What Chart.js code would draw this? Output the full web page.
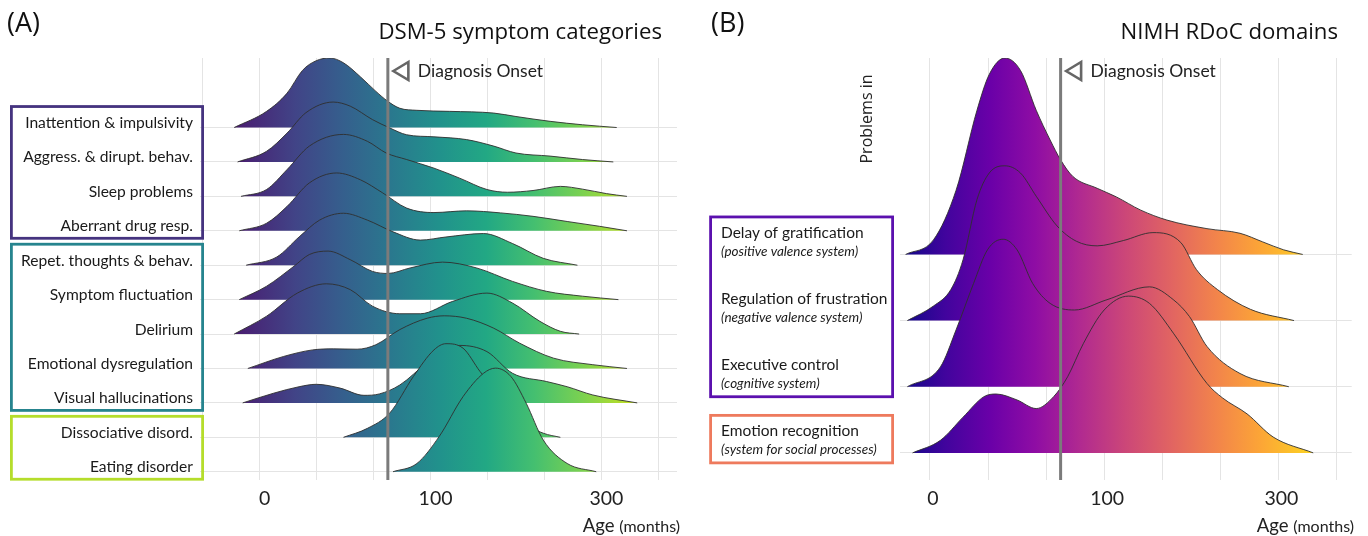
<!DOCTYPE html>
<html>
<head>
<meta charset="utf-8">
<script src="https://cdn.jsdelivr.net/npm/chart.js@4.4.1/dist/chart.umd.min.js"></script>
<style>
	html, body { margin: 0; padding: 0; background: #fff; }
	body { width: 1368px; height: 536px; position: relative; overflow: hidden; font-family: "Open Sans", sans-serif; color: #111; }
	.panel { position: absolute; top: 0; width: 684px; height: 536px; }
	.txt { position: absolute; white-space: nowrap; line-height: 1; }
	.axt { font-family: Lato, sans-serif; font-size: 18.5px; color: #222; }
	.axt span { font-size: 16px; }
</style>
</head>
<body>
<div class="panel" style="left:0"><canvas id="chartA"></canvas></div>
<div class="panel" style="left:684px"><canvas id="chartB"></canvas></div>

<div class="txt" style="left:7px; top:8px; font-size:27px;">(A)</div>
<div class="txt" style="right:706px; top:20px; font-size:22.2px;">DSM-5 symptom categories</div>
<div class="txt" style="left:711px; top:8px; font-size:27px;">(B)</div>
<div class="txt" style="right:30px; top:20px; font-size:22.2px;">NIMH RDoC domains</div>
<div class="txt axt" style="right:688px; top:516px;">Age <span>(months)</span></div>
<div class="txt axt" style="right:14px; top:516px;">Age <span>(months)</span></div>

<script>
// age axis: positions 0, 1, 2 carry the labels 0, 100, 300 months
const tickPositions = [0, 1, 2];
const tickLabels = ["0", "100", "300"];
const gridStepsA = [-1/3, 0, 1/3, 2/3, 1, 4/3, 5/3, 2, 7/3];
const gridStepsB = [0, 1/3, 2/3, 1, 4/3, 5/3, 2, 7/3];
const onsetPos = 0.75;

// (A) DSM-5 symptom categories, top to bottom; each point is [age position, density]
const categoriesA = [
	"Inattention & impulsivity", "Aggress. & dirupt. behav.", "Sleep problems",
	"Aberrant drug resp.", "Repet. thoughts & behav.", "Symptom fluctuation",
	"Delirium", "Emotional dysregulation", "Visual hallucinations",
	"Dissociative disord.", "Eating disorder"
];
const inattention = [[-0.15,0],[0.04,0.47],[0.16,1.0],[0.25,1.66],[0.33,1.94],[0.41,2.02],[0.49,1.88],[0.59,1.47],[0.68,1.05],[0.75,0.76],[0.82,0.56],[0.92,0.5],[1.11,0.47],[1.37,0.42],[1.5,0.32],[1.7,0.18],[1.89,0.08],[2.09,0]];
const aggression = [[-0.13,0],[0.04,0.31],[0.16,0.84],[0.27,1.43],[0.43,1.74],[0.53,1.62],[0.66,1.23],[0.76,0.99],[0.86,0.79],[1.02,0.73],[1.21,0.65],[1.37,0.46],[1.5,0.26],[1.7,0.17],[1.89,0.07],[2.07,0]];
const sleep = [[-0.11,0],[0.04,0.2],[0.16,0.78],[0.29,1.46],[0.49,1.8],[0.63,1.6],[0.74,1.26],[0.86,1.07],[1.02,0.82],[1.17,0.53],[1.33,0.2],[1.45,0.12],[1.6,0.17],[1.76,0.29],[1.89,0.21],[2.03,0.08],[2.15,0]];
const aberrantDrug = [[-0.12,0],[0.04,0.22],[0.16,0.71],[0.29,1.39],[0.45,1.68],[0.59,1.48],[0.72,1.1],[0.86,0.66],[1.02,0.53],[1.21,0.58],[1.41,0.52],[1.6,0.42],[1.8,0.27],[1.99,0.13],[2.15,0]];
const repetitive = [[-0.08,0],[0.1,0.24],[0.23,0.82],[0.35,1.31],[0.49,1.51],[0.63,1.31],[0.78,0.97],[0.94,0.73],[1.09,0.82],[1.31,0.92],[1.48,0.63],[1.66,0.2],[1.86,0]];
const fluctuation = [[-0.12,0],[0.04,0.39],[0.2,0.97],[0.29,1.31],[0.4,1.41],[0.53,1.16],[0.66,0.82],[0.75,0.76],[0.88,0.92],[1.07,1.09],[1.27,0.92],[1.48,0.53],[1.68,0.24],[1.89,0.1],[2.1,0]];
const delirium = [[-0.15,0],[0.04,0.52],[0.22,1.19],[0.39,1.46],[0.53,1.29],[0.66,0.81],[0.82,0.59],[0.94,0.59],[1.13,0.95],[1.33,1.19],[1.48,0.9],[1.64,0.37],[1.76,0.08],[1.87,0]];
const emotionalDysreg = [[-0.07,0],[0.14,0.35],[0.31,0.54],[0.43,0.57],[0.57,0.56],[0.68,0.69],[0.82,1.13],[0.98,1.46],[1.08,1.53],[1.21,1.46],[1.37,1.17],[1.52,0.74],[1.72,0.3],[1.95,0.11],[2.15,0]];
const visualHalluc = [[-0.1,0],[0.08,0.28],[0.23,0.47],[0.33,0.54],[0.47,0.43],[0.61,0.22],[0.7,0.26],[0.82,0.52],[0.98,1.16],[1.17,1.67],[1.33,1.49],[1.48,0.86],[1.68,0.62],[1.8,0.47],[1.95,0.23],[2.21,0]];
const dissociative = [[0.49,0],[0.63,0.26],[0.76,0.7],[0.9,1.77],[1.02,2.54],[1.09,2.72],[1.19,2.59],[1.29,1.91],[1.41,1.18],[1.52,0.5],[1.66,0.12],[1.76,0]];
const eating = [[0.78,0],[0.92,0.24],[1.05,1.02],[1.19,2.18],[1.31,2.86],[1.38,3.01],[1.47,2.77],[1.56,1.99],[1.66,0.92],[1.8,0.24],[1.97,0]];
// which rows each framed group holds
const groupFirstA = [0, 4, 9];
const groupLastA = [3, 8, 10];

// (B) NIMH RDoC domains
const categoriesB = ["Delay of gratification", "Regulation of frustration", "Executive control", "Emotion recognition"];
const domainsB = ["(positive valence system)", "(negative valence system)", "(cognitive system)", "(system for social processes)"];
const delayGrat = [[-0.14,0],[0.02,0.22],[0.15,0.97],[0.27,2.18],[0.34,2.72],[0.43,2.97],[0.52,2.78],[0.61,2.18],[0.69,1.73],[0.75,1.43],[0.82,1.18],[0.96,1.0],[1.07,0.87],[1.21,0.67],[1.36,0.52],[1.59,0.39],[1.78,0.32],[1.91,0.19],[2.03,0.07],[2.14,0]];
const frustration = [[-0.13,0],[0.02,0.22],[0.12,0.47],[0.19,0.92],[0.27,1.83],[0.34,2.23],[0.43,2.34],[0.52,2.23],[0.61,1.88],[0.73,1.43],[0.84,1.2],[0.96,1.13],[1.11,1.21],[1.28,1.33],[1.44,1.18],[1.53,0.77],[1.65,0.47],[1.84,0.17],[2.09,0]];
const execControl = [[-0.13,0],[0.06,0.3],[0.15,0.86],[0.25,1.56],[0.33,2.07],[0.42,2.23],[0.5,2.07],[0.59,1.56],[0.69,1.26],[0.83,1.16],[1.01,1.31],[1.26,1.51],[1.4,1.31],[1.49,1.06],[1.59,0.61],[1.78,0.2],[2.06,0]];
const emotionRecog = [[-0.1,0],[0.06,0.19],[0.19,0.54],[0.31,0.85],[0.38,0.89],[0.5,0.8],[0.61,0.67],[0.71,0.85],[0.79,1.15],[0.88,1.65],[1.0,2.16],[1.14,2.37],[1.26,2.26],[1.4,1.8],[1.59,1.05],[1.68,0.83],[1.82,0.59],[1.97,0.24],[2.2,0]];
const groupFirstB = [0, 3];
const groupLastB = [2, 3];

const seriesA = [inattention, aggression, sleep, aberrantDrug, repetitive, fluctuation, delirium, emotionalDysreg, visualHalluc, dissociative, eating];
const seriesB = [delayGrat, frustration, execControl, emotionRecog];

const viridis = ["#440154","#482475","#414487","#355f8d","#2a788e","#21918c","#22a884","#44bf70","#7ad151","#bddf26","#fde725"];
const plasma = ["#0d0887","#41049d","#6a00a8","#8f0da4","#b12a90","#cc4778","#e16462","#f2844b","#fca636","#fcce25","#f0f921"];
const boxColorsA = ["#45337f", "#26848e", "#b5dd2b"];
const boxColorsB = ["#5b10ae", "#ee7a5d"];
const gridColor = "#e4e4e4";

const gradCache = {};
function gradientFor(chart, stops) {
	const a = chart.chartArea;
	if (!a) return "rgba(0,0,0,0)";
	const key = chart.id + ":" + a.left + ":" + a.right;
	if (!gradCache[key]) {
		const g = chart.ctx.createLinearGradient(a.left, 0, a.right, 0);
		stops.forEach((c, k) => g.addColorStop(k / (stops.length - 1), c));
		gradCache[key] = g;
	}
	return gradCache[key];
}

function ridges(series, stops) {
	const n = series.length;
	return series.map((pts, i) => {
		const base = n - 1 - i;
		return {
			data: pts.map((p) => ({ x: p[0], y: base + p[1] })),
			fill: { value: base },
			backgroundColor: (ctx) => gradientFor(ctx.chart, stops),
			borderColor: "#2f2f2f",
			borderWidth: 0.9,
			pointRadius: 0,
			cubicInterpolationMode: "monotone",
			order: n - i,
		};
	});
}

function onsetLine(yMin, yMax) {
	return {
		data: [{ x: onsetPos, y: yMin }, { x: onsetPos, y: yMax }],
		borderColor: "#7b7b7b",
		borderWidth: 3,
		pointRadius: 0,
		fill: false,
		order: 0,
	};
}

function tickText(v) {
	const k = tickPositions.findIndex((t) => Math.abs(t - v) < 1e-6);
	return k < 0 ? "" : tickLabels[k];
}

// open triangle + "Diagnosis Onset" next to the vertical line
const onsetLabel = {
	id: "onsetLabel",
	afterDatasetsDraw(chart) {
		const ctx = chart.ctx;
		const x = chart.scales.x.getPixelForValue(onsetPos);
		const cy = chart.chartArea.top + 13;
		ctx.save();
		ctx.strokeStyle = "#666";
		ctx.lineWidth = 2.6;
		ctx.lineJoin = "miter";
		ctx.beginPath();
		ctx.moveTo(x + 5.5, cy);
		ctx.lineTo(x + 20.5, cy - 9);
		ctx.lineTo(x + 20.5, cy + 9);
		ctx.closePath();
		ctx.stroke();
		ctx.fillStyle = "#222";
		ctx.font = "17.5px Lato";
		ctx.textBaseline = "middle";
		ctx.fillText("Diagnosis Onset", x + 30, cy);
		ctx.restore();
	},
};

function groupBoxes(first, last, colors, left, right, above, below) {
	return {
		id: "groupBoxes",
		afterDraw(chart) {
			const ctx = chart.ctx;
			const y = chart.scales.y;
			const n = chart.options.plugins.rowCount;
			ctx.save();
			ctx.lineWidth = 2.8;
			first.forEach((f, g) => {
				const top = y.getPixelForValue(n - 1 - f) - above;
				const bottom = y.getPixelForValue(n - 1 - last[g]) + below;
				ctx.strokeStyle = colors[g];
				ctx.strokeRect(left, top, right - left, bottom - top);
			});
			ctx.restore();
		},
	};
}

const rowLabelsB = {
	id: "rowLabelsB",
	afterDraw(chart) {
		const ctx = chart.ctx;
		const y = chart.scales.y;
		const n = categoriesB.length;
		ctx.save();
		ctx.fillStyle = "#1a1a1a";
		ctx.textBaseline = "middle";
		categoriesB.forEach((name, i) => {
			const base = y.getPixelForValue(n - 1 - i);
			ctx.font = "15.5px Lato";
			ctx.fillText(name, 37, base - 21.5);
			ctx.font = "italic 13.5px Lato";
			ctx.fillText(domainsB[i], 37, base - 3);
		});
		// rotated "Problems in" above the labels
		ctx.translate(183, 119);
		ctx.rotate(-Math.PI / 2);
		ctx.textAlign = "center";
		ctx.font = "16px 'Open Sans'";
		ctx.fillStyle = "#222";
		ctx.fillText("Problems in", 0, 0);
		ctx.restore();
	},
};

function makeChart(id, cfg) {
	const n = cfg.series.length;
	return new Chart(document.getElementById(id), {
		type: "line",
		data: { datasets: [onsetLine(cfg.yMin, cfg.yMax)].concat(ridges(cfg.series, cfg.stops)) },
		options: {
			responsive: true,
			maintainAspectRatio: false,
			animation: false,
			events: [],
			layout: { padding: { top: 58, right: cfg.padRight, left: 0, bottom: 0 } },
			plugins: { legend: { display: false }, tooltip: { enabled: false }, rowCount: n },
			scales: {
				x: {
					type: "linear",
					min: cfg.xMin,
					max: cfg.xMax,
					afterBuildTicks: (s) => { s.ticks = cfg.gridSteps.map((v) => ({ value: v })); },
					afterFit: (s) => { s.height = 56; },
					ticks: { callback: tickText, font: { family: "Lato", size: 19.5 }, color: "#222", padding: 7, labelOffset: cfg.labelShift, autoSkip: false, maxRotation: 0 },
					grid: { color: gridColor, lineWidth: 1, drawTicks: false },
					border: { display: false },
				},
				y: {
					type: "linear",
					min: cfg.yMin,
					max: cfg.yMax,
					afterBuildTicks: (s) => { s.ticks = cfg.series.map((_, i) => ({ value: i })); },
					afterFit: (s) => { s.width = cfg.axisWidth; },
					ticks: {
						display: cfg.showRowTicks,
						callback: (v) => cfg.names[n - 1 - Math.round(v)],
						font: { family: "Lato", size: 15.6 },
						color: "#1a1a1a",
						padding: 7,
						labelOffset: -4.5,
						autoSkip: false,
					},
					grid: { color: gridColor, lineWidth: 1, drawTicks: false },
					border: { display: false },
				},
			},
		},
		plugins: cfg.plugins,
	});
}

makeChart("chartA", {
	series: seriesA, names: categoriesA, stops: viridis,
	xMin: -0.35, xMax: 2.443, yMin: -0.24, yMax: 12.02,
	gridSteps: gridStepsA, padRight: 7, axisWidth: 200, labelShift: 5, showRowTicks: true,
	plugins: [onsetLabel, groupBoxes(groupFirstA, groupLastA, boxColorsA, 11.4, 202.6, 21, 7.5)],
});

makeChart("chartB", {
	series: seriesB, names: categoriesB, stops: plasma,
	xMin: -0.172, xMax: 2.421, yMin: -0.41, yMax: 5.97,
	gridSteps: gridStepsB, padRight: 16.3, axisWidth: 216, labelShift: 3, showRowTicks: false,
	plugins: [onsetLabel, rowLabelsB, groupBoxes(groupFirstB, groupLastB, boxColorsB, 26.6, 208.6, 37.5, 10)],
});
</script>
</body>
</html>
